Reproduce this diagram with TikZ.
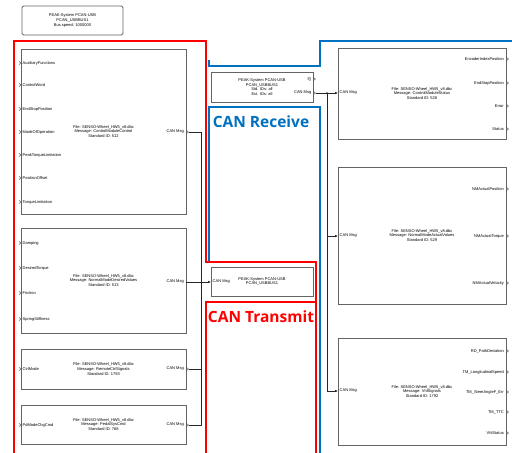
\documentclass[tikz,border=0pt]{standalone}
\usepackage{fontspec}
\setmainfont{Liberation Sans}
\newfontfamily\bigf{Open Sans}
\usetikzlibrary{arrows.meta}
\definecolor{areared}{RGB}{255,0,0}
\definecolor{areablue}{RGB}{0,112,192}
\definecolor{bordgray}{RGB}{100,100,100}
\begin{document}
\begin{tikzpicture}[x=1pt,y=-1pt,
  block/.style={draw=bordgray, line width=0.9pt, fill=white, inner sep=0pt, align=center,
                font=\fontsize{4}{4.7}\selectfont},
  lbl/.style={inner sep=0pt, font=\fontsize{4}{4.7}\selectfont},
  wire/.style={draw=black!85, line width=0.6pt},
  arr/.style={wire, -{Latex[length=3pt,width=2.6pt]}},
  area/.style={line width=2pt},
  areatitle/.style={inner sep=0pt, font=\bigf\bfseries\fontsize{15.5}{16}\selectfont},
  port/.pic={\draw[line width=0.45pt, black!70] (-2,-1.6) -- (0,0) -- (-2,1.6);}
]
\useasboundingbox (0,0) rectangle (512,453);

% ---- areas ----
\draw[area, areablue] (512,41) -- (320,41) -- (320,66) -- (208.5,66) -- (208.5,60);
\draw[area, areablue] (208.5,262) -- (208.5,107) -- (320,107) -- (320,453);
\draw[area, areared] (14,453) -- (14,41) -- (206,41) -- (206,262) -- (316,262) -- (316,453);
\draw[area, areared] (206,453) -- (206,302) -- (316,302);
\node[areatitle, text=areablue] (lblRx) at (261,122) {CAN Receive};
\node[areatitle, text=areared] (lblTx) at (261,317) {CAN Transmit};

% ---- top config box ----
\node[block, rounded corners=1.5pt, minimum width=101pt, minimum height=29pt] (P) at (72.5,20.5)
  {PEAK-System PCAN-USB\\PCAN\_USBBUS1\\Bus speed: 1000000};

% ---- left (transmit) blocks ----
\node[block, minimum width=165pt, minimum height=165pt] (A) at (103.5,131.5)
  {File: SENSO-Wheel\_HW5\_v8.dbc\\Message: ControlModuleControl\\Standard ID: 512};
\foreach \yy/\tt in {63/AuxiliaryFunctions,85/ControlWord,109/EndStopPosition,132/ModeOfOperation,155/PeakTorqueLimitation,178/PositionOffset,202/TorqueLimitation}{
  \pic at (21,\yy) {port};
  \node[lbl, anchor=west] at (22.5,\yy) {\tt};
}
\node[lbl, anchor=east] (Aoutl) at (184,132) {CAN Msg};
\pic at (188.5,132) {port};
\coordinate (Aout) at (188.5,132);

\node[block, minimum width=165pt, minimum height=105pt] (B) at (103.5,280.5)
  {File: SENSO-Wheel\_HW5\_v8.dbc\\Message: NormalModeDesiredValues\\Standard ID: 513};
\foreach \yy/\tt in {243/Damping,268/DesiredTorque,293/Friction,319/SpringStiffness}{
  \pic at (21,\yy) {port};
  \node[lbl, anchor=west] at (22.5,\yy) {\tt};
}
\node[lbl, anchor=east] (Boutl) at (184,282) {CAN Msg};
\coordinate (Bout) at (186,282);

\node[block, minimum width=165pt, minimum height=40pt] (C) at (103.5,369)
  {File: SENSO-Wheel\_HW5\_v8.dbc\\Message: RemoteCtrlSignals\\Standard ID: 1793};
\pic at (21,369) {port};
\node[lbl, anchor=west] at (22.5,369) {CtrlMode};
\node[lbl, anchor=east] (Coutl) at (184,369) {CAN Msg};
\pic at (188.5,369) {port};
\coordinate (Cout) at (188.5,369);

\node[block, minimum width=165pt, minimum height=39pt] (D) at (103.5,424.5)
  {File: SENSO-Wheel\_HW5\_v8.dbc\\Message: PedalSysCmd\\Standard ID: 768};
\pic at (21,425) {port};
\node[lbl, anchor=west] at (22.5,425) {PdModeChgCmd};
\node[lbl, anchor=east] (Doutl) at (184,425) {CAN Msg};
\pic at (188.5,425) {port};
\coordinate (Dout) at (188.5,425);

% ---- transmit block ----
\node[block, minimum width=102pt, minimum height=29pt] (T) at (262,281.5)
  {PEAK-System PCAN-USB\\PCAN\_USBBUS1};
\node[lbl, anchor=west] (Tinl) at (212.5,282) {CAN Msg};
\coordinate (Tin) at (211,282);
\coordinate (jT) at (201,282);

\draw[wire] (Aout) -| (jT);
\draw[wire] (Cout) -| (jT);
\draw[wire] (Dout) -| (jT);
\draw[arr] (Bout) -- (Tin);

% ---- receive block ----
\node[block, minimum width=102pt, minimum height=30pt] (R) at (262,87)
  {PEAK-System PCAN-USB\\PCAN\_USBBUS1\\Std. IDs: all\\Ext. IDs: all};
\node[lbl, anchor=east] (Rfl) at (311.5,79) {f()};
\pic at (315.5,79) {port};
\node[lbl, anchor=east] (Routl) at (311.5,93) {CAN Msg};
\pic at (315.5,93) {port};
\coordinate (Rout) at (315.5,93);

% ---- right (receive) blocks ----
\node[block, minimum width=168pt, minimum height=91pt] (R1) at (422,93.5)
  {File: SENSO-Wheel\_HW5\_v8.dbc\\Message: ControlModuleStatus\\Standard ID: 528};
\node[lbl, anchor=west] at (339.5,93) {CAN Msg};
\coordinate (R1in) at (338,93);
\foreach \yy/\tt in {59/EncoderIndexPosition,83/EndStopPosition,106/Error,129/Status}{
  \node[lbl, anchor=east] at (504,\yy) {\tt};
  \pic at (508.5,\yy) {port};
}

\node[block, minimum width=168pt, minimum height=137pt] (R2) at (422,235.5)
  {File: SENSO-Wheel\_HW5\_v8.dbc\\Message: NormalModeActualValues\\Standard ID: 529};
\node[lbl, anchor=west] at (339.5,236) {CAN Msg};
\coordinate (R2in) at (338,236);
\foreach \yy/\tt in {189/NMActualPosition,236/NMActualTorque,283/NMActualVelocity}{
  \node[lbl, anchor=east] at (504,\yy) {\tt};
  \pic at (508.5,\yy) {port};
}

\node[block, minimum width=168pt, minimum height=107pt] (R3) at (422,391.5)
  {File: SENSO-Wheel\_HW5\_v8.dbc\\Message: VhlSignals\\Standard ID: 1792};
\node[lbl, anchor=west] at (339.5,391) {CAN Msg};
\coordinate (R3in) at (338,391);
\foreach \yy/\tt in {351/RD\_PathDeviation,372/TM\_LongitudinalSpeed,392/TM\_SteerAngleF\_Err,412/TM\_TTC,433/VhlStatus}{
  \node[lbl, anchor=east] at (504,\yy) {\tt};
  \pic at (508.5,\yy) {port};
}

\coordinate (jR) at (327,93);
\draw[arr] (Rout) -- (R1in);
\fill[black!85] (jR) circle (0.9pt);
\draw[arr] (jR) |- (R2in);
\draw[arr] (jR) |- (R3in);
\end{tikzpicture}
\end{document}
